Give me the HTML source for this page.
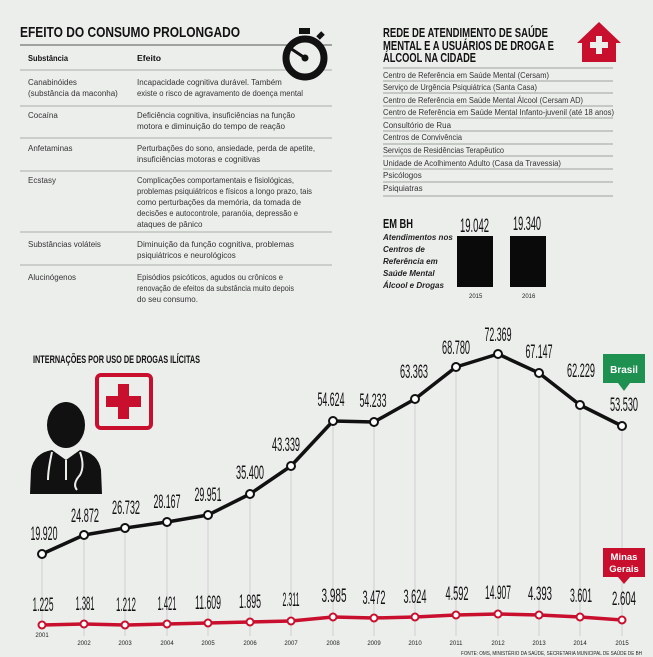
<!DOCTYPE html>
<html><head><meta charset="utf-8"><style>
html,body{margin:0;padding:0;background:#eceeec}
svg{display:block}
text{font-family:"Liberation Sans",sans-serif}
.t{font-size:8px;fill:#333}
.h{font-weight:bold;fill:#111}
.n{font-size:19px;fill:#111}
.y{font-size:6px;fill:#222}
</style></head><body>
<svg width="653" height="657" viewBox="0 0 653 657" xmlns="http://www.w3.org/2000/svg">
<rect width="653" height="657" fill="#eceeec"/>
<!-- Left table -->
<text x="20" y="37" class="h" font-size="15" textLength="220" lengthAdjust="spacingAndGlyphs">EFEITO DO CONSUMO PROLONGADO</text>
<line x1="20" y1="45" x2="332" y2="45" stroke="#555" stroke-width="1"/>
<text x="28" y="61" class="t h" font-size="9" textLength="40" lengthAdjust="spacingAndGlyphs">Substância</text>
<text x="137" y="61" class="t h" font-size="9" textLength="24" lengthAdjust="spacingAndGlyphs">Efeito</text>
<g stroke="#999" stroke-width="0.8">
<line x1="20" y1="70" x2="332" y2="70"/><line x1="20" y1="106" x2="332" y2="106"/>
<line x1="20" y1="138" x2="332" y2="138"/><line x1="20" y1="171" x2="332" y2="171"/>
<line x1="20" y1="232" x2="332" y2="232"/><line x1="20" y1="265" x2="332" y2="265"/>
</g>
<g class="t">
<text x="28" y="85">Canabinóides</text><text x="28" y="96">(substância da maconha)</text>
<text x="137" y="85">Incapacidade cognitiva durável. Também</text>
<text x="137" y="96" textLength="166" lengthAdjust="spacingAndGlyphs">existe o risco de agravamento de doença mental</text>
<text x="28" y="118">Cocaína</text>
<text x="137" y="118" textLength="158" lengthAdjust="spacingAndGlyphs">Deficiência cognitiva, insuficiências na função</text>
<text x="137" y="129" textLength="148" lengthAdjust="spacingAndGlyphs">motora e diminuição do tempo de reação</text>
<text x="28" y="151">Anfetaminas</text>
<text x="137" y="151" textLength="178" lengthAdjust="spacingAndGlyphs">Perturbações do sono, ansiedade, perda de apetite,</text>
<text x="137" y="162">insuficiências motoras e cognitivas</text>
<text x="28" y="183">Ecstasy</text>
<text x="137" y="183" textLength="157" lengthAdjust="spacingAndGlyphs">Complicações comportamentais e fisiológicas,</text>
<text x="137" y="194" textLength="175" lengthAdjust="spacingAndGlyphs">problemas psiquiátricos e físicos a longo prazo, tais</text>
<text x="137" y="205" textLength="164" lengthAdjust="spacingAndGlyphs">como perturbações da memória, da tomada de</text>
<text x="137" y="216" textLength="161" lengthAdjust="spacingAndGlyphs">decisões e autocontrole, paranóia, depressão e</text>
<text x="137" y="227">ataques de pânico</text>
<text x="28" y="247">Substâncias voláteis</text>
<text x="137" y="247" textLength="157" lengthAdjust="spacingAndGlyphs">Diminuição da função cognitiva, problemas</text>
<text x="137" y="258">psiquiátricos e neurológicos</text>
<text x="28" y="280">Alucinógenos</text>
<text x="137" y="280" textLength="146" lengthAdjust="spacingAndGlyphs">Episódios psicóticos, agudos ou crônicos e</text>
<text x="137" y="291" textLength="157" lengthAdjust="spacingAndGlyphs">renovação de efeitos da substância muito depois</text>
<text x="137" y="302">do seu consumo.</text>
</g>
<!-- stopwatch -->
<g>
<rect x="299" y="28" width="11" height="6" fill="#111"/>
<line x1="318" y1="38" x2="323" y2="33" stroke="#111" stroke-width="5"/>
<circle cx="305" cy="58" r="19" fill="#eceeec" stroke="#111" stroke-width="7"/>
<line x1="290" y1="48" x2="305" y2="58" stroke="#111" stroke-width="3"/>
<circle cx="305" cy="58" r="3.5" fill="#111"/>
</g>
<!-- Right -->
<g class="h" font-size="13">
<text x="383" y="37" textLength="165" lengthAdjust="spacingAndGlyphs">REDE DE ATENDIMENTO DE SAÚDE</text>
<text x="383" y="50" textLength="171" lengthAdjust="spacingAndGlyphs">MENTAL E A USUÁRIOS DE DROGA E</text>
<text x="383" y="62" textLength="93" lengthAdjust="spacingAndGlyphs">ÁLCOOL NA CIDADE</text>
</g>
<g fill="#c8102e">
<path d="M599 22 L621 43 L616 43 L616 62 L582 62 L582 43 L577 43 Z"/>
</g>
<path d="M596 36 h6 v6 h6 v6 h-6 v6 h-6 v-6 h-6 v-6 h6 Z" fill="#eceeec"/>
<g stroke="#888" stroke-width="0.8">
<line x1="383" y1="68" x2="613" y2="68"/><line x1="383" y1="81" x2="613" y2="81"/>
<line x1="383" y1="93" x2="613" y2="93"/><line x1="383" y1="106" x2="613" y2="106"/>
<line x1="383" y1="118" x2="613" y2="118"/><line x1="383" y1="131" x2="613" y2="131"/>
<line x1="383" y1="144" x2="613" y2="144"/><line x1="383" y1="156" x2="613" y2="156"/>
<line x1="383" y1="169" x2="613" y2="169"/><line x1="383" y1="182" x2="613" y2="182"/>
<line x1="383" y1="196" x2="613" y2="196"/>
</g>
<g class="t" fill="#222">
<text x="383" y="78" textLength="166" lengthAdjust="spacingAndGlyphs">Centro de Referência em Saúde Mental (Cersam)</text>
<text x="383" y="90" textLength="154" lengthAdjust="spacingAndGlyphs">Serviço de Urgência Psiquiátrica (Santa Casa)</text>
<text x="383" y="103" textLength="200" lengthAdjust="spacingAndGlyphs">Centro de Referência em Saúde Mental Álcool (Cersam AD)</text>
<text x="383" y="115" textLength="231" lengthAdjust="spacingAndGlyphs">Centro de Referência em Saúde Mental Infanto-juvenil (até 18 anos)</text>
<text x="383" y="128" textLength="68" lengthAdjust="spacingAndGlyphs">Consultório de Rua</text>
<text x="383" y="140" textLength="79" lengthAdjust="spacingAndGlyphs">Centros de Convivência</text>
<text x="383" y="153" textLength="121" lengthAdjust="spacingAndGlyphs">Serviços de Residências Terapêutico</text>
<text x="383" y="166" textLength="178" lengthAdjust="spacingAndGlyphs">Unidade de Acolhimento Adulto (Casa da Travessia)</text>
<text x="383" y="178">Psicólogos</text>
<text x="383" y="191">Psiquiatras</text>
</g>
<text x="383" y="228" class="h" font-size="13" textLength="30" lengthAdjust="spacingAndGlyphs">EM BH</text>
<g font-size="8" font-style="italic" font-weight="bold" fill="#222">
<text x="383" y="240">Atendimentos nos</text>
<text x="383" y="252">Centros de</text>
<text x="383" y="264">Referência em</text>
<text x="383" y="276">Saúde Mental</text>
<text x="383" y="288">Álcool e Drogas</text>
</g>
<rect x="457" y="236" width="36" height="51" fill="#0a0a0a"/>
<rect x="510" y="236" width="36" height="51" fill="#0a0a0a"/>
<text x="460" y="232" class="n" font-size="18" textLength="29" lengthAdjust="spacingAndGlyphs">19.042</text>
<text x="513" y="230" class="n" font-size="18" textLength="28" lengthAdjust="spacingAndGlyphs">19.340</text>
<text x="469" y="298" class="y" font-size="5.5">2015</text>
<text x="522" y="298" class="y" font-size="5.5">2016</text>
<!-- chart -->
<text x="33" y="363" class="h" font-size="11" textLength="167" lengthAdjust="spacingAndGlyphs">INTERNAÇÕES POR USO DE DROGAS ILÍCITAS</text>
<rect x="97" y="375" width="54" height="53" rx="4" fill="none" stroke="#c8102e" stroke-width="4"/>
<path d="M118 384 h11 v12 h12 v11 h-12 v12 h-11 v-12 h-12 v-11 h12 Z" fill="#c8102e"/>
<!-- doctor -->
<g fill="#111">
<ellipse cx="66" cy="425" rx="19" ry="23"/>
<path d="M30 494 L31 470 Q34 453 52 450 L66 460 L80 450 Q98 453 101 470 L102 494 Z"/>
</g>
<g stroke="#eceeec" stroke-width="2" fill="none">
<path d="M52 452 Q48 470 48 480"/><path d="M80 452 Q85 466 80 475 Q72 484 77 490"/>
<path d="M66 460 L66 480"/>
</g>
<g stroke="#bbb" stroke-width="0.6">
<line x1="42" y1="554" x2="42" y2="628"/><line x1="84" y1="535" x2="84" y2="636"/>
<line x1="125" y1="528" x2="125" y2="636"/><line x1="167" y1="522" x2="167" y2="636"/>
<line x1="208" y1="515" x2="208" y2="636"/><line x1="250" y1="494" x2="250" y2="636"/>
<line x1="291" y1="466" x2="291" y2="636"/><line x1="333" y1="421" x2="333" y2="636"/>
<line x1="374" y1="422" x2="374" y2="636"/><line x1="415" y1="399" x2="415" y2="636"/>
<line x1="456" y1="367" x2="456" y2="636"/><line x1="498" y1="354" x2="498" y2="636"/>
<line x1="539" y1="373" x2="539" y2="636"/><line x1="580" y1="405" x2="580" y2="636"/>
<line x1="622" y1="426" x2="622" y2="636"/>
</g>
<polyline points="42,554 84,535 125,528 167,522 208,515 250,494 291,466 333,421 374,422 415,399 456,367 498,354 539,373 580,405 622,426" fill="none" stroke="#111" stroke-width="3.5" stroke-linejoin="round"/>
<g fill="#fff" stroke="#111" stroke-width="2">
<circle cx="42" cy="554" r="4"/><circle cx="84" cy="535" r="4"/><circle cx="125" cy="528" r="4"/><circle cx="167" cy="522" r="4"/><circle cx="208" cy="515" r="4"/><circle cx="250" cy="494" r="4"/><circle cx="291" cy="466" r="4"/><circle cx="333" cy="421" r="4"/><circle cx="374" cy="422" r="4"/><circle cx="415" cy="399" r="4"/><circle cx="456" cy="367" r="4"/><circle cx="498" cy="354" r="4"/><circle cx="539" cy="373" r="4"/><circle cx="580" cy="405" r="4"/><circle cx="622" cy="426" r="4"/>
</g>
<g class="n" text-anchor="middle">
<text x="44" y="540" textLength="27" lengthAdjust="spacingAndGlyphs">19.920</text>
<text x="85" y="522" textLength="28" lengthAdjust="spacingAndGlyphs">24.872</text>
<text x="126" y="514" textLength="28" lengthAdjust="spacingAndGlyphs">26.732</text>
<text x="167" y="508" textLength="27" lengthAdjust="spacingAndGlyphs">28.167</text>
<text x="208" y="501" textLength="27" lengthAdjust="spacingAndGlyphs">29.951</text>
<text x="250" y="479" textLength="28" lengthAdjust="spacingAndGlyphs">35.400</text>
<text x="286" y="451" textLength="28" lengthAdjust="spacingAndGlyphs">43.339</text>
<text x="331" y="406" textLength="27" lengthAdjust="spacingAndGlyphs">54.624</text>
<text x="373" y="407" textLength="27" lengthAdjust="spacingAndGlyphs">54.233</text>
<text x="414" y="378" textLength="28" lengthAdjust="spacingAndGlyphs">63.363</text>
<text x="456" y="354" textLength="28" lengthAdjust="spacingAndGlyphs">68.780</text>
<text x="498" y="341" textLength="27" lengthAdjust="spacingAndGlyphs">72.369</text>
<text x="539" y="358" textLength="27" lengthAdjust="spacingAndGlyphs">67.147</text>
<text x="581" y="377" textLength="28" lengthAdjust="spacingAndGlyphs">62.229</text>
<text x="624" y="411" textLength="28" lengthAdjust="spacingAndGlyphs">53.530</text>
</g>
<rect x="603" y="354" width="42" height="29" fill="#1e9150"/>
<path d="M618 383 L624 391 L630 383 Z" fill="#1e9150"/>
<text x="624" y="373" text-anchor="middle" font-size="10" font-weight="bold" fill="#fff">Brasil</text>
<rect x="603" y="548" width="42" height="29" fill="#c8102e"/>
<path d="M618 577 L624 584 L630 577 Z" fill="#c8102e"/>
<text x="624" y="560" text-anchor="middle" font-size="9.5" font-weight="bold" fill="#fff">Minas</text>
<text x="624" y="572" text-anchor="middle" font-size="9.5" font-weight="bold" fill="#fff">Gerais</text>
<polyline points="42,625 84,624 125,625 167,624 208,623 250,622 291,621 333,617 374,618 415,617 456,615 498,614 539,615 580,617 622,620" fill="none" stroke="#c8102e" stroke-width="3.5" stroke-linejoin="round"/>
<g fill="#fff" stroke="#c8102e" stroke-width="2">
<circle cx="42" cy="625" r="3.5"/><circle cx="84" cy="624" r="3.5"/><circle cx="125" cy="625" r="3.5"/><circle cx="167" cy="624" r="3.5"/><circle cx="208" cy="623" r="3.5"/><circle cx="250" cy="622" r="3.5"/><circle cx="291" cy="621" r="3.5"/><circle cx="333" cy="617" r="3.5"/><circle cx="374" cy="618" r="3.5"/><circle cx="415" cy="617" r="3.5"/><circle cx="456" cy="615" r="3.5"/><circle cx="498" cy="614" r="3.5"/><circle cx="539" cy="615" r="3.5"/><circle cx="580" cy="617" r="3.5"/><circle cx="622" cy="620" r="3.5"/>
</g>
<g class="n" text-anchor="middle">
<text x="43" y="611" textLength="21" lengthAdjust="spacingAndGlyphs">1.225</text>
<text x="85" y="610" textLength="19" lengthAdjust="spacingAndGlyphs">1.381</text>
<text x="126" y="611" textLength="20" lengthAdjust="spacingAndGlyphs">1.212</text>
<text x="167" y="610" textLength="19" lengthAdjust="spacingAndGlyphs">1.421</text>
<text x="208" y="609" textLength="26" lengthAdjust="spacingAndGlyphs">11.609</text>
<text x="250" y="608" textLength="22" lengthAdjust="spacingAndGlyphs">1.895</text>
<text x="291" y="606" textLength="17" lengthAdjust="spacingAndGlyphs">2.311</text>
<text x="334" y="602" textLength="25" lengthAdjust="spacingAndGlyphs">3.985</text>
<text x="374" y="604" textLength="23" lengthAdjust="spacingAndGlyphs">3.472</text>
<text x="415" y="603" textLength="23" lengthAdjust="spacingAndGlyphs">3.624</text>
<text x="457" y="600" textLength="23" lengthAdjust="spacingAndGlyphs">4.592</text>
<text x="498" y="599" textLength="26" lengthAdjust="spacingAndGlyphs">14.907</text>
<text x="540" y="600" textLength="24" lengthAdjust="spacingAndGlyphs">4.393</text>
<text x="581" y="602" textLength="22" lengthAdjust="spacingAndGlyphs">3.601</text>
<text x="624" y="605" textLength="24" lengthAdjust="spacingAndGlyphs">2.604</text>
</g>
<g class="y" text-anchor="middle">
<text x="42" y="637">2001</text><text x="84" y="645">2002</text><text x="125" y="645">2003</text><text x="167" y="645">2004</text><text x="208" y="645">2005</text><text x="250" y="645">2006</text><text x="291" y="645">2007</text><text x="333" y="645">2008</text><text x="374" y="645">2009</text><text x="415" y="645">2010</text><text x="456" y="645">2011</text><text x="498" y="645">2012</text><text x="539" y="645">2013</text><text x="580" y="645">2014</text><text x="622" y="645">2015</text>
</g>
<text x="461" y="655" font-size="5" fill="#222" textLength="181" lengthAdjust="spacingAndGlyphs">FONTE: OMS, MINISTÉRIO DA SAÚDE, SECRETARIA MUNICIPAL DE SAÚDE DE BH</text>
</svg>
</body></html>
